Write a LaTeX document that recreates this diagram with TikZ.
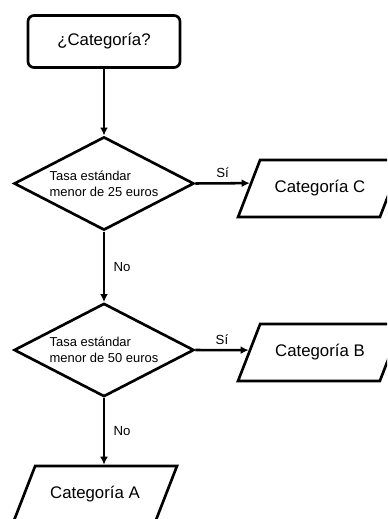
\documentclass[tikz,border=0pt]{standalone}
\usepackage{fontspec}
\setmainfont{Liberation Sans}
\usetikzlibrary{shapes.geometric,arrows.meta,calc}
\begin{document}
\begin{tikzpicture}[
  x=0.75pt, y=-0.75pt,
  start/.style={draw, rounded corners=4.5pt, line width=2pt, minimum width=114pt, minimum height=39pt, font=\fontsize{12.6}{15}\selectfont},
  decision/.style={draw, diamond, aspect=1.94, line width=2pt, minimum width=135pt, minimum height=70pt, inner sep=0pt, align=left, font=\fontsize{9.7}{12}\selectfont},
  category/.style={draw, trapezium, trapezium left angle=53.6, trapezium right angle=126.4, trapezium stretches=true, line width=2pt, minimum width=123pt, minimum height=42.75pt, font=\fontsize{12.6}{15}\selectfont},
  arr/.style={-{Latex[length=6pt,width=6pt]}, line width=1.9pt},
  lbl/.style={font=\fontsize{9.9}{12}\selectfont}
]
\useasboundingbox (0,0) rectangle (387,519);
\clip (0,0) rectangle (387,519);

\node[start] (cat) at (104,41.5) {¿Categoría?};
\node[decision] (q25) at (104,183.5) {Tasa estándar\\menor de 25 euros};
\node[category] (catC) at (320,188.5) {Categoría C};
\node[decision] (q50) at (104,350) {Tasa estándar\\menor de 50 euros};
\node[category] (catB) at (320,352.5) {Categoría B};
\node[category] (catA) at (95,494.5) {Categoría A};

\draw[arr] (cat) -- (q25);
\draw[arr] (q25.east) -- node[lbl, above] {Sí} ($(catC.bottom left corner)!0.59!(catC.top left corner)$);
\draw[arr] (q25) -- node[lbl, right, xshift=3pt] {No} (q50);
\draw[arr] (q50.east) -- node[lbl, above] {Sí} ($(catB.bottom left corner)!0.54!(catB.top left corner)$);
\draw[arr] (q50) -- node[lbl, right, xshift=3pt] {No} (q50 |- catA.north);
\end{tikzpicture}
\end{document}
